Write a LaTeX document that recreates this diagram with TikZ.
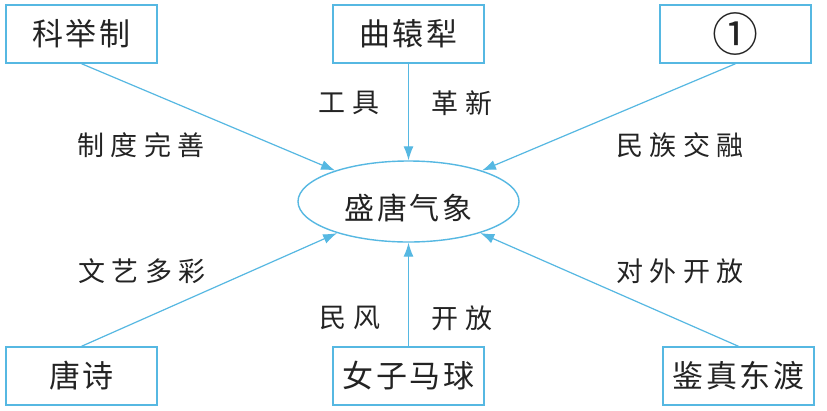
\documentclass[tikz,border=0pt]{standalone}
\usepackage{fontspec}
\newfontfamily\cjk{Noto Sans CJK SC}
\usetikzlibrary{arrows.meta,shapes.geometric}
\definecolor{ln}{RGB}{86,184,226}
\definecolor{tx}{RGB}{35,35,35}
\newcommand\mybs{\hspace{2.5pt}}
\newcommand\myls{\hspace{6.5pt}}
\begin{document}
\begin{tikzpicture}[x=1pt,y=-1pt,
  box/.style={draw=ln,line width=1.4pt,minimum width=151pt,minimum height=58pt,inner sep=0pt,
    font=\cjk\fontsize{31}{31}\selectfont,text=tx},
  lab/.style={font=\cjk\fontsize{27}{27}\selectfont,text=tx,inner sep=0pt},
  arr/.style={draw=ln,line width=1.2pt,-{Latex[length=14pt,width=10pt]}}]
\useasboundingbox (0,0) rectangle (827,410);
\fill[white] (0,0) rectangle (827,410);

\node[box] (ke)   at (81.5,34)   {科\mybs 举\mybs 制};
\node[box] (qu)   at (408.5,34)  {曲\mybs 辕\mybs 犁};
\node[box,font=\cjk\fontsize{46}{46}\selectfont] (one)  at (735.5,34)  {①};
\node[box] (tang) at (81.5,376)  {唐\mybs 诗};
\node[box] (nv)   at (408.5,376) {女\mybs 子\mybs 马\mybs 球};
\node[box] (jian) at (738.5,376) {鉴\mybs 真\mybs 东\mybs 渡};

\node[ellipse,draw=ln,line width=1.4pt,minimum width=221pt,minimum height=81pt,inner sep=0pt] (ell) at (408.5,201.5) {};
\node[font=\cjk\fontsize{30}{30}\selectfont,text=tx,inner sep=0pt] (center) at (408.5,208) {盛\mybs 唐\mybs 气\mybs 象};

\draw[arr] (ke.south) -- (ell);
\draw[arr] (qu.south) -- (ell.north);
\draw[arr] (one.south) -- (ell);
\draw[arr] (tang.north) -- (ell);
\draw[arr] (nv.north) -- (ell.south);
\draw[arr] (jian.north) -- (ell);

\node[lab] (l1) at (141,145) {制\myls 度\myls 完\myls 善};
\node[lab] (l2) at (349,103) {工\myls 具};
\node[lab] (l3) at (462,103) {革\myls 新};
\node[lab] (l4) at (680,145) {民\myls 族\myls 交\myls 融};
\node[lab] (l5) at (142,271) {文\myls 艺\myls 多\myls 彩};
\node[lab] (l6) at (680,271) {对\myls 外\myls 开\myls 放};
\node[lab] (l7) at (350,318) {民\myls 风};
\node[lab] (l8) at (462,318) {开\myls 放};
\end{tikzpicture}
\end{document}
